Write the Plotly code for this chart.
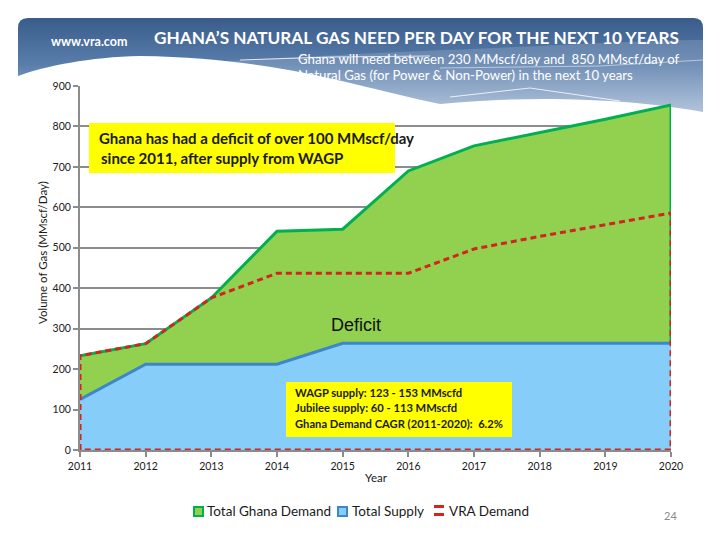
import base64
import plotly.graph_objects as go

# ---------------- data ----------------
years = [2011, 2012, 2013, 2014, 2015, 2016, 2017, 2018, 2019, 2020]
ghana_demand = [233, 263, 376, 541, 546, 690, 752, 785, 818, 853]
total_supply = [125, 212, 212, 212, 264, 264, 264, 264, 264, 264]
vra_demand = [233, 263, 376, 437, 437, 437, 497, 528, 557, 586]
y_ticks = [0, 100, 200, 300, 400, 500, 600, 700, 800, 900]
series_names = ["Total Ghana Demand", "Total Supply", "VRA Demand"]

# ---------------- geometry helpers (pixel -> paper) ----------------
W, H = 720, 540
L, R, T, B = 80, 671, 86, 450
PW, PH = R - L, B - T


def px(x):
    return (x - L) / PW


def py(y):
    return (B - y) / PH


FONT = "Lato"
GREEN_FILL, GREEN_LINE = "#92d050", "#00b050"
BLUE_FILL, BLUE_LINE = "#86cdf9", "#3b86cc"
RED = "#d2261c"

fig = go.Figure()

# Total Ghana Demand (closed area with green border)
fig.add_trace(go.Scatter(
    x=years + [years[-1], years[0]],
    y=ghana_demand + [0, 0],
    fill="toself", fillcolor=GREEN_FILL,
    line=dict(color=GREEN_LINE, width=3),
    mode="lines", name=series_names[0], hoverinfo="skip", showlegend=False))

# Total Supply
fig.add_trace(go.Scatter(
    x=years, y=total_supply,
    fill="tozeroy", fillcolor=BLUE_FILL,
    line=dict(color=BLUE_LINE, width=3),
    mode="lines", name=series_names[1], hoverinfo="skip", showlegend=False))

# VRA Demand (dashed outline, no fill)
fig.add_trace(go.Scatter(
    x=[years[0]] + years + [years[-1], years[0]],
    y=[0] + vra_demand + [0, 0],
    line=dict(color=RED, width=3, dash="6px,4px"),
    mode="lines", name=series_names[2], hoverinfo="skip", showlegend=False))

# ---------------- header decoration (SVG background) ----------------
svg = f'''<svg xmlns="http://www.w3.org/2000/svg" width="{W}" height="{H}" viewBox="0 0 {W} {H}">
<defs>
<linearGradient id="g" x1="0" y1="18" x2="0" y2="112" gradientUnits="userSpaceOnUse">
<stop offset="0" stop-color="#395c8b"/>
<stop offset="0.5" stop-color="#5a7eab"/>
<stop offset="1" stop-color="#a3b9d5"/>
</linearGradient>
</defs>
<path d="M18,28 Q18,18 28,18 L694,18 Q703,18 703,28 L703,112 C640,100 540,94 440,104 C360,88 280,58 140,56 C90,57 45,66 18,76 Z" fill="url(#g)"/>
<path d="M210,62 C300,56 450,50 560,45 C620,42 680,40 703,40 L703,112 C640,100 540,94 440,104 C360,88 290,64 210,62 Z" fill="#ffffff" fill-opacity="0.15"/>
<path d="M240,60 L330,57 L430,56" stroke="#ffffff" stroke-width="1" fill="none" stroke-opacity="0.8"/>
<path d="M450,97 L530,88 L620,101" stroke="#ffffff" stroke-width="1" fill="none" stroke-opacity="0.8"/>
<path d="M440,68 L600,66 L703,60" stroke="#ffffff" stroke-width="1" fill="none" stroke-opacity="0.5"/>
</svg>'''
src = "data:image/svg+xml;base64," + base64.b64encode(svg.encode()).decode()
fig.add_layout_image(dict(
    source=src, xref="paper", yref="paper",
    x=px(0), y=py(0), sizex=W / PW, sizey=H / PH,
    xanchor="left", yanchor="top", sizing="stretch", layer="below"))

shapes = []


def rect(x0, y0, x1, y1, fill, line_color=None, lw=0):
    shapes.append(dict(type="rect", xref="paper", yref="paper",
                       x0=px(x0), x1=px(x1), y0=py(y1), y1=py(y0),
                       fillcolor=fill,
                       line=dict(width=lw, color=line_color or fill),
                       layer="above"))


# yellow callout boxes
rect(89, 123, 395, 173, "#ffff00")
rect(286, 382, 512, 437, "#ffff00")

# legend keys
rect(194, 507, 203, 516, GREEN_FILL, GREEN_LINE, 2)
rect(338, 507, 347, 516, BLUE_FILL, BLUE_LINE, 2)
rect(434, 505, 444, 508, RED)
rect(434, 513, 444, 516, RED)

ann = []


def text(x, y, s, size, color="#1a1a1a", xanchor="center", bold=False,
         family=FONT, angle=0):
    ann.append(dict(
        x=px(x), y=py(y), xref="paper", yref="paper", text=s,
        showarrow=False, xanchor=xanchor, yanchor="middle", textangle=angle,
        font=dict(size=size, color=color, family=family,
                  weight="bold" if bold else "normal")))


text(89, 42, "www.vra.com", 12.5, color="#ffffff", bold=True)
text(416, 37, "GHANA\u2019S NATURAL GAS NEED PER DAY FOR THE NEXT 10 YEARS",
     17.2, color="#ffffff", bold=True)
text(296, 59, "Ghana will need between 230 MMscf/day and  850 MMscf/day of",
     13.2, color="#ffffff", xanchor="left")
text(296, 75, "Natural Gas (for Power &amp; Non-Power) in the next 10 years",
     13.2, color="#ffffff", xanchor="left")

text(97, 138, "Ghana has had a deficit of over 100 MMscf/day", 15,
     xanchor="left", bold=True)
text(99, 158, "since 2011, after supply from WAGP", 15,
     xanchor="left", bold=True)

text(293, 392, "WAGP supply: 123 - 153 MMscfd", 11.2, xanchor="left", bold=True)
text(293, 407, "Jubilee supply: 60 - 113 MMscfd", 11.2, xanchor="left", bold=True)
text(293, 423, "Ghana Demand CAGR (2011-2020):  6.2%", 11.2, xanchor="left",
     bold=True)

text(356, 325, "Deficit", 18, color="#111111", family="Liberation Sans, Arial")

text(42, 253, "Volume of Gas (MMscf/Day)", 11.5, angle=-90)
text(376, 477, "Year", 11.5)
text(670, 515, "24", 11, color="#8a8a8a")

# legend labels
text(205, 511, series_names[0], 13.5, xanchor="left")
text(350, 511, series_names[1], 13.5, xanchor="left")
text(447, 511, series_names[2], 13.5, xanchor="left")

fig.update_layout(
    width=W, height=H,
    margin=dict(l=L, r=W - R, t=T, b=H - B, pad=0),
    paper_bgcolor="#ffffff", plot_bgcolor="rgba(0,0,0,0)",
    font=dict(family=FONT, color="#1a1a1a"),
    annotations=ann, shapes=shapes,
    showlegend=False,
    xaxis=dict(range=[2011, 2020], tickvals=years,
               ticktext=[str(y) for y in years],
               showgrid=False, zeroline=False, showline=True,
               linecolor="#8c8c8c", linewidth=2,
               ticks="outside", ticklen=5, tickcolor="#8c8c8c", tickwidth=2,
               tickfont=dict(size=10.5, family=FONT, color="#1a1a1a")),
    yaxis=dict(range=[0, 900], tickvals=y_ticks,
               showgrid=True, gridcolor="#8c8c8c", gridwidth=2,
               zeroline=False, showline=True,
               linecolor="#8c8c8c", linewidth=2,
               ticks="outside", ticklen=5, tickcolor="#8c8c8c", tickwidth=2,
               tickfont=dict(size=10.5, family=FONT, color="#1a1a1a")),
)

fig.write_html("out.html", config={"displayModeBar": False},
               post_script="document.body.style.margin='0';document.body.style.padding='0';")
